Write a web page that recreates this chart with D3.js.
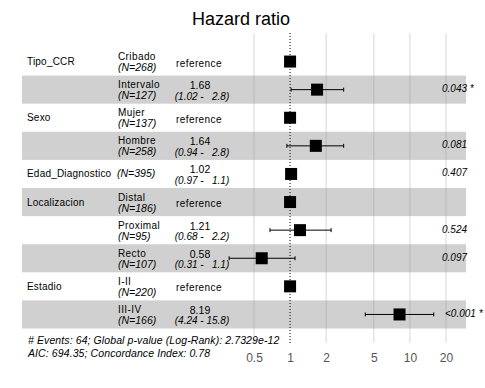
<!DOCTYPE html>
<html>
<head>
<meta charset="utf-8">
<title>Hazard ratio</title>
<style>
  body { margin: 0; background: #fff; }
  svg text { font-family: "Liberation Sans", Arial, sans-serif; }
</style>
</head>
<body>
<script src="https://d3js.org/d3.v7.min.js"></script>
<script>
// data
const variables = ["Tipo_CCR", "Tipo_CCR", "Sexo", "Sexo", "Edad_Diagnostico", "Localizacion", "Localizacion", "Localizacion", "Estadio", "Estadio"];
const levels = ["Cribado", "Intervalo", "Mujer", "Hombre", "", "Distal", "Proximal", "Recto", "I-II", "III-IV"];
const counts = [268, 127, 137, 258, 395, 186, 95, 107, 220, 166];
const hr = [1, 1.68, 1, 1.64, 1.02, 1, 1.21, 0.58, 1, 8.19];
const lower = [null, 1.02, null, 0.94, 0.97, null, 0.68, 0.31, null, 4.24];
const upper = [null, 2.8, null, 2.8, 1.1, null, 2.2, 1.1, null, 15.8];
const pvals = ["", "0.043 *", "", "0.081", "0.407", "", "0.524", "0.097", "", "<0.001 *"];
const ticks = [0.5, 1, 2, 5, 10, 20];

const W = 485, H = 388;
const svg = d3.select("body").append("svg").attr("width", W).attr("height", H);

const rows = d3.range(levels.length);
const y = d3.scaleBand().domain(rows).range([47.5, 328.5]);
const x = d3.scaleLog().domain([0.5, 20]).range([254, 446]);
const cy = i => y(i) + y.bandwidth() / 2;

svg.append("text")
  .attr("x", 241).attr("y", 25)
  .attr("text-anchor", "middle")
  .attr("font-size", 18)
  .text("Hazard ratio");

// shaded rows
svg.selectAll("rect.band")
  .data(rows.filter(i => i % 2 === 1))
  .enter().append("rect")
  .attr("class", "band")
  .attr("x", 22).attr("width", 444)
  .attr("y", d => y(d)).attr("height", y.bandwidth())
  .attr("fill", "#d0d0d0");

// grid
svg.selectAll("line.grid")
  .data(ticks.filter(t => t !== 1))
  .enter().append("line")
  .attr("class", "grid")
  .attr("x1", d => x(d)).attr("x2", d => x(d))
  .attr("y1", 33).attr("y2", 343)
  .attr("stroke", "rgba(140,140,140,0.35)");

svg.append("line")
  .attr("x1", x(1)).attr("x2", x(1))
  .attr("y1", 33).attr("y2", 345)
  .attr("stroke", "#000")
  .attr("stroke-dasharray", "1,2");

// variable names
const firstRows = rows.filter(i => i === 0 || variables[i] !== variables[i - 1]);
svg.selectAll("text.var")
  .data(firstRows)
  .enter().append("text")
  .attr("x", 27).attr("y", d => cy(d) + 3.5)
  .attr("font-size", 10)
  .attr("letter-spacing", 0.2)
  .text(d => variables[d]);

// levels and N
rows.forEach(i => {
  const c = cy(i);
  if (levels[i]) {
    svg.append("text").attr("x", 118).attr("y", c - 1.5)
      .attr("font-size", 10).attr("letter-spacing", 0.4).text(levels[i]);
    svg.append("text").attr("x", 118).attr("y", c + 9.5)
      .attr("font-size", 10.5).attr("font-style", "italic").text("(N=" + counts[i] + ")");
  } else {
    svg.append("text").attr("x", 117).attr("y", c + 3.5)
      .attr("font-size", 10.5).attr("font-style", "italic").text("(N=" + counts[i] + ")");
  }
  if (lower[i] === null) {
    svg.append("text").attr("x", 199).attr("y", c + 5)
      .attr("text-anchor", "middle").attr("font-size", 10).attr("letter-spacing", 0.4).text("reference");
  } else {
    svg.append("text").attr("x", 200).attr("y", c - 0.5)
      .attr("text-anchor", "middle").attr("font-size", 10.5).text(hr[i].toFixed(2));
    svg.append("text").attr("x", 202).attr("y", c + 10)
      .attr("text-anchor", "middle").attr("font-size", 10).attr("font-style", "italic")
      .attr("xml:space", "preserve")
      .text("(" + lower[i] + " - " + (String(upper[i]).length < 4 ? "  " : "") + upper[i] + ")");
  }
  if (pvals[i]) {
    svg.append("text").attr("x", pvals[i][0] === "<" ? 445 : 442).attr("y", c + 2.5)
      .attr("font-size", 10).attr("font-style", "italic").text(pvals[i]);
  }
});

// confidence intervals
const ci = rows.filter(i => lower[i] !== null);
const g = svg.append("g").attr("stroke", "#000").attr("stroke-width", 1);
g.selectAll("line.ci").data(ci).enter().append("line")
  .attr("x1", d => x(lower[d])).attr("x2", d => x(upper[d]))
  .attr("y1", d => cy(d)).attr("y2", d => cy(d));
[lower, upper].forEach(arr => {
  g.selectAll(null).data(ci).enter().append("line")
    .attr("x1", d => x(arr[d])).attr("x2", d => x(arr[d]))
    .attr("y1", d => cy(d) - 2).attr("y2", d => cy(d) + 2);
});

svg.selectAll("rect.pt")
  .data(rows)
  .enter().append("rect")
  .attr("x", d => x(hr[d]) - 6).attr("y", d => cy(d) - 6)
  .attr("width", 12).attr("height", 12)
  .attr("fill", "#000");

// footnotes
svg.append("text").attr("x", 28).attr("y", 344)
  .attr("font-size", 10.5).attr("font-style", "italic").attr("letter-spacing", 0.1)
  .text("# Events: 64; Global p-value (Log-Rank): 2.7329e-12");
svg.append("text").attr("x", 28).attr("y", 357)
  .attr("font-size", 10.5).attr("font-style", "italic").attr("letter-spacing", 0.1)
  .text("AIC: 694.35; Concordance Index: 0.78");

// axis
const axis = svg.append("g")
  .attr("transform", "translate(0,350)")
  .call(d3.axisBottom(x).tickValues(ticks).tickFormat(d3.format("")).tickSize(0));
axis.select(".domain").remove();
axis.selectAll("text")
  .attr("font-family", "Liberation Sans, Arial, sans-serif")
  .attr("font-size", 12)
  .attr("fill", "#555");
</script>
</body>
</html>
